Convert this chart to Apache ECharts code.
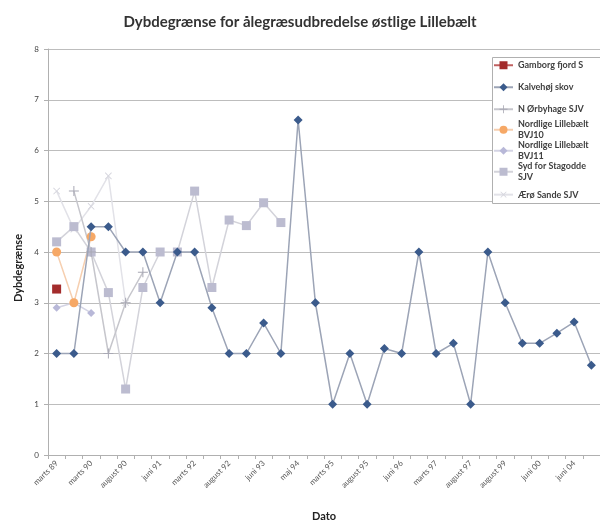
<!DOCTYPE html>
<html><head><meta charset="utf-8">
<script src="https://cdn.jsdelivr.net/npm/echarts@6/dist/echarts.min.js"></script>
<style>html,body{margin:0;padding:0;background:#fff}#c{width:600px;height:522px}</style>
</head><body><div id="c"></div>
<script>
const categories = ["marts 89","august 89","marts 90","juni 90","august 90","marts 91","juni 91","august 91","marts 92","juni 92","august 92","marts 93","juni 93","august 93","maj 94","august 94","marts 95","juni 95","august 95","marts 96","juni 96","august 96","marts 97","juni 97","august 97","august 98","august 99","marts 00","juni 00","juni 02","juni 04","august 04"];
const gamborg = [3.27];
const kalvehoj = [2.0,2.0,4.5,4.5,4.0,4.0,3.0,4.0,4.0,2.9,2.0,2.0,2.6,2.0,6.6,3.0,1.0,2.0,1.0,2.1,2.0,4.0,2.0,2.2,1.0,4.0,3.0,2.2,2.2,2.4,2.62,1.77];
const orbyhage = [null,5.2,4.0,2.0,3.0,3.6];
const bvj10 = [4.0,3.0,4.3];
const bvj11 = [2.9,3.0,2.8];
const stagodde = [4.2,4.5,4.0,3.2,1.3,3.3,4.0,4.0,5.2,3.3,4.63,4.52,4.97,4.58];
const aero = [5.2,4.45,4.9,5.5,3.0];
const names = ["Gamborg fjord S","Kalvehøj skov","N Ørbyhage SJV","Nordlige Lillebælt BVJ10","Nordlige Lillebælt BVJ11","Syd for Stagodde SJV","Ærø Sande SJV"];

const plusPath = 'path://M4.5,0 H5.5 V4.5 H10 V5.5 H5.5 V10 H4.5 V5.5 H0 V4.5 H4.5 Z';

const font = 'Lato, "Open Sans", sans-serif';
const chart = echarts.init(document.getElementById('c'), null, {renderer:'canvas'});

const legendTops = [60, 82, 104, 114, 135, 156, 189];
const legendFmt = {
  "Nordlige Lillebælt BVJ10": "Nordlige Lillebælt\nBVJ10",
  "Nordlige Lillebælt BVJ11": "Nordlige Lillebælt\nBVJ11",
  "Syd for Stagodde SJV": "Syd for Stagodde\nSJV"
};
const legends = names.map((n,i)=>{
  const wrap = !!legendFmt[n];
  return {
    left: 493, top: legendTops[i], orient:'vertical',
    data:[n], itemWidth: 19, itemHeight: 10, padding:0, z: 10,
    formatter: (nm)=> legendFmt[nm] || nm,
    textStyle: {fontFamily: font, fontSize: 9, fontWeight:'bold', color:'#404040', lineHeight: 10.5,
      padding: wrap ? [10.5,0,0,0] : 0}
  };
});

chart.setOption({
  animation:false,
  backgroundColor:'#fff',
  title:{text:'Dybdegrænse for ålegræsudbredelse østlige Lillebælt', left:'center', top:10,
    textStyle:{fontFamily:font, fontSize:15, fontWeight:'bold', color:'#333'}},
  grid:{left:48, right:0, top:49, bottom:67, containLabel:false, outerBoundsMode:'none'},
  legend: legends,
  graphic:[{type:'rect', z:5, shape:{x:492.5, y:57.5, width:120, height:146}, style:{fill:'#fff', stroke:'#b0b0b0', lineWidth:1}}],
  xAxis:{type:'category', data:categories, boundaryGap:true,
    name:'Dato', nameLocation:'middle', nameGap:56,
    nameTextStyle:{fontFamily:font, fontSize:11, fontWeight:'bold', color:'#222'},
    axisLine:{lineStyle:{color:'#b0b0b0'}},
    axisTick:{show:true, interval:0, length:4, lineStyle:{color:'#b0b0b0'}},
    axisLabel:{interval:1, rotate:45, fontFamily:font, fontSize:8, color:'#555', margin:7}},
  yAxis:{type:'value', min:0, max:8, interval:1,
    name:'Dybdegrænse', nameLocation:'middle', nameGap:24, nameRotate:90,
    nameTextStyle:{fontFamily:font, fontSize:11, fontWeight:'bold', color:'#222', padding:[0,32,0,0]},
    axisLine:{show:true, lineStyle:{color:'#b0b0b0'}},
    axisTick:{show:true, length:4, lineStyle:{color:'#b0b0b0'}},
    axisLabel:{fontFamily:font, fontSize:8, color:'#444', margin:9},
    splitLine:{lineStyle:{color:'#bdbdbd', width:1}}},
  series:[
    {name:names[6], type:'line', data:aero, symbol:plusPath, symbolRotate:45, symbolSize:9, z:2,
      itemStyle:{color:'#d6d6de'}, lineStyle:{color:'#e2e2e8', width:1.5}},
    {name:names[5], type:'line', data:stagodde, symbol:'rect', symbolSize:9, z:3,
      itemStyle:{color:'#bcbcd0'}, lineStyle:{color:'#d3d3da', width:1.5}},
    {name:names[4], type:'line', data:bvj11, symbol:'diamond', symbolSize:8, z:3,
      itemStyle:{color:'#b8b8d8'}, lineStyle:{color:'#d4d4e4', width:1.5}},
    {name:names[3], type:'line', data:bvj10, symbol:'circle', symbolSize:9, z:3,
      itemStyle:{color:'#f6a866'}, lineStyle:{color:'#f6cfb0', width:1.5}},
    {name:names[2], type:'line', data:orbyhage, symbol:plusPath, symbolSize:10, z:3, connectNulls:false,
      itemStyle:{color:'#a8a8b4'}, lineStyle:{color:'#c6c6cc', width:1.5}},
    {name:names[1], type:'line', data:kalvehoj, symbol:'diamond', symbolSize:9, z:4,
      itemStyle:{color:'#3b5b8c'}, lineStyle:{color:'#9ca4b6', width:1.5}},
    {name:names[0], type:'line', data:gamborg, symbol:'rect', symbolSize:9, z:4,
      itemStyle:{color:'#a32c2c'}, lineStyle:{color:'#c06060', width:1.5}}
  ]
});
</script></body></html>
